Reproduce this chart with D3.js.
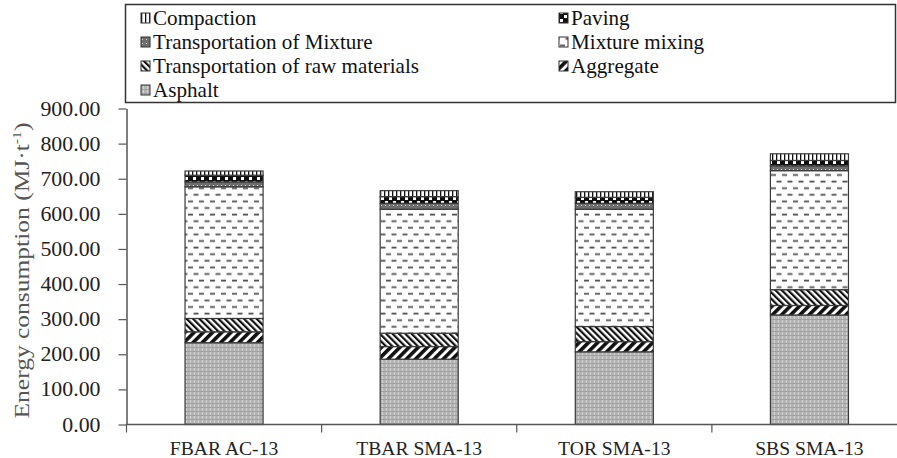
<!DOCTYPE html>
<html>
<head>
<meta charset="utf-8">
<script src="https://cdn.jsdelivr.net/npm/d3@7"></script>
<style>
  body { margin: 0; background: #fff; }
  svg { display: block; }
  text { font-family: "Liberation Serif", "Tinos", "Times New Roman", "DejaVu Serif", "Noto Serif", serif; }
</style>
</head>
<body>
<div id="main"></div>
<script>
// chart values
const categories = ["FBAR AC-13", "TBAR SMA-13", "TOR SMA-13", "SBS SMA-13"];
const asphalt      = [233, 186, 207, 312];
const aggregate    = [31, 36, 29, 27];
const rawTransport = [38, 38, 43, 45];
const mixing       = [375, 353, 334, 339];
const mixTransport = [14, 17, 17, 14];
const paving       = [19, 19, 17, 15];
const compaction   = [12, 17, 16, 19];
const yTicks = [0, 100, 200, 300, 400, 500, 600, 700, 800, 900];

// stacking order, bottom to top
const seriesNames = ["Asphalt", "Aggregate", "Transportation of raw materials",
    "Mixture mixing", "Transportation of Mixture", "Paving", "Compaction"];
const seriesValues = [asphalt, aggregate, rawTransport, mixing, mixTransport, paving, compaction];
// legend order as in the reference (two columns, row by row)
const legendOrder = ["Compaction", "Paving", "Transportation of Mixture", "Mixture mixing",
    "Transportation of raw materials", "Aggregate", "Asphalt"];

const ctx = {
    w: 897,
    h: 458,
    left: 126.5,
    right: 907,
    top: 108.5,
    bottom: 424.5,
};

const patternId = {
    "Compaction": "pCompaction",
    "Paving": "pPaving",
    "Transportation of Mixture": "pMixTrans",
    "Mixture mixing": "pMixing",
    "Transportation of raw materials": "pRawTrans",
    "Aggregate": "pAggregate",
    "Asphalt": "pAsphalt",
};

function makePatterns(defs){
    // compaction: white with thin vertical lines
    let p = defs.append("pattern").attr("id", "pCompaction").attr("patternUnits", "userSpaceOnUse")
        .attr("width", 4).attr("height", 4);
    p.append("rect").attr("width", 4).attr("height", 4).attr("fill", "#fff");
    p.append("rect").attr("x", 0).attr("width", 1.3).attr("height", 4).attr("fill", "#111");
    // paving: black with white blocks
    p = defs.append("pattern").attr("id", "pPaving").attr("patternUnits", "userSpaceOnUse")
        .attr("width", 8).attr("height", 8);
    p.append("rect").attr("width", 8).attr("height", 8).attr("fill", "#111");
    p.append("rect").attr("x", 1).attr("y", 1).attr("width", 3).attr("height", 3).attr("fill", "#fff");
    p.append("rect").attr("x", 5).attr("y", 5).attr("width", 3).attr("height", 3).attr("fill", "#fff");
    // transportation of mixture: dark gray with light dots
    p = defs.append("pattern").attr("id", "pMixTrans").attr("patternUnits", "userSpaceOnUse")
        .attr("width", 4).attr("height", 4);
    p.append("rect").attr("width", 4).attr("height", 4).attr("fill", "#6e6e6e");
    p.append("rect").attr("x", 1).attr("y", 1).attr("width", 1).attr("height", 1).attr("fill", "#d8d8d8");
    // mixture mixing: staggered short dashes
    p = defs.append("pattern").attr("id", "pMixing").attr("patternUnits", "userSpaceOnUse")
        .attr("width", 11).attr("height", 13.2);
    p.append("rect").attr("width", 11).attr("height", 13.2).attr("fill", "#fff");
    p.append("rect").attr("x", 1).attr("y", 2.5).attr("width", 5).attr("height", 1.8).attr("fill", "#555");
    p.append("rect").attr("x", 6.5).attr("y", 9.1).attr("width", 5).attr("height", 1.8).attr("fill", "#555");
    p.append("rect").attr("x", -4.5).attr("y", 9.1).attr("width", 5).attr("height", 1.8).attr("fill", "#555");
    // transportation of raw materials: dense falling diagonals
    p = defs.append("pattern").attr("id", "pRawTrans").attr("patternUnits", "userSpaceOnUse")
        .attr("width", 4.5).attr("height", 4.5).attr("patternTransform", "rotate(-45)");
    p.append("rect").attr("width", 4.5).attr("height", 4.5).attr("fill", "#fff");
    p.append("rect").attr("width", 2.2).attr("height", 4.5).attr("fill", "#111");
    // aggregate: wide rising diagonals
    p = defs.append("pattern").attr("id", "pAggregate").attr("patternUnits", "userSpaceOnUse")
        .attr("width", 6.5).attr("height", 6.5).attr("patternTransform", "rotate(45)");
    p.append("rect").attr("width", 6.5).attr("height", 6.5).attr("fill", "#fff");
    p.append("rect").attr("width", 3.6).attr("height", 6.5).attr("fill", "#111");
    // asphalt: light gray with fine grid
    p = defs.append("pattern").attr("id", "pAsphalt").attr("patternUnits", "userSpaceOnUse")
        .attr("width", 4).attr("height", 4);
    p.append("rect").attr("width", 4).attr("height", 4).attr("fill", "#b4b4b4");
    p.append("rect").attr("x", 2).attr("width", 1).attr("height", 4).attr("fill", "#d2d2d2");
    p.append("rect").attr("y", 3).attr("width", 4).attr("height", 1).attr("fill", "#a0a0a0");
}

// squeeze text to Times-like widths whatever serif face gets picked
function fitText(sel, k){
    sel.each(function(){
        let L = this.getComputedTextLength();
        d3.select(this).attr("textLength", L * k).attr("lengthAdjust", "spacingAndGlyphs");
    });
}

function createViz(){
    let svgEl = d3.select("#main").append("svg")
        .attr("width", ctx.w).attr("height", ctx.h);
    makePatterns(svgEl.append("defs"));
    let rootG = svgEl.append("g");

    // width ratio against the reference legend text
    let probe = rootG.append("text").attr("font-size", 21).text("Transportation of raw materials");
    ctx.kLeg = Math.min(1.05, 266 / probe.node().getComputedTextLength());
    probe.attr("font-size", 19.5);
    ctx.k = Math.min(1.05, 247 / probe.node().getComputedTextLength());
    probe.remove();

    ctx.xScale = d3.scaleBand().domain(categories).range([ctx.left, ctx.right]);
    ctx.yScale = d3.scaleLinear().domain([0, 900]).range([ctx.bottom, ctx.top]);

    // table for the stack layout
    let table = categories.map((c, i) => {
        let row = {category: c};
        seriesNames.forEach((s, j) => { row[s] = seriesValues[j][i]; });
        return row;
    });
    let stacked = d3.stack().keys(seriesNames)(table);

    // bars
    const bw = ctx.xScale.bandwidth();
    rootG.append("g").selectAll("g")
        .data(stacked)
        .join("g")
        .attr("fill", (d) => `url(#${patternId[d.key]})`)
        .selectAll("rect")
        .data((d) => d)
        .join("rect")
        .attr("x", (d) => ctx.xScale(d.data.category) + bw * 0.3)
        .attr("width", bw * 0.4)
        .attr("y", (d) => ctx.yScale(d[1]))
        .attr("height", (d) => ctx.yScale(d[0]) - ctx.yScale(d[1]))
        .attr("stroke", "#3a3a3a")
        .attr("stroke-width", 1.2);

    // y axis
    let yAxis = rootG.append("g")
        .attr("transform", `translate(${ctx.left},0)`)
        .call(d3.axisLeft(ctx.yScale).tickValues(yTicks).tickFormat(d3.format(".2f"))
              .tickSize(8).tickSizeOuter(0).tickPadding(18));
    yAxis.attr("font-family", null);
    yAxis.select(".domain").attr("stroke", "#555").attr("stroke-width", 1.5);
    yAxis.selectAll(".tick line").attr("stroke", "#555").attr("stroke-width", 1.2);
    yAxis.selectAll("text").attr("font-size", 20.5).attr("fill", "#222");
    fitText(yAxis.selectAll("text"), ctx.k * 1.06);

    // x axis: line at zero, ticks between categories
    let xg = rootG.append("g");
    xg.append("line")
        .attr("x1", ctx.left).attr("x2", ctx.right)
        .attr("y1", ctx.yScale(0)).attr("y2", ctx.yScale(0))
        .attr("stroke", "#555").attr("stroke-width", 1.5);
    xg.selectAll("line.sep")
        .data(categories)
        .join("line")
        .attr("class", "sep")
        .attr("x1", (d) => ctx.xScale(d)).attr("x2", (d) => ctx.xScale(d))
        .attr("y1", ctx.yScale(0)).attr("y2", ctx.yScale(0) + 8)
        .attr("stroke", "#555").attr("stroke-width", 1.2);
    let xl = xg.selectAll("text")
        .data(categories)
        .join("text")
        .attr("x", (d) => ctx.xScale(d) + bw / 2)
        .attr("y", 455)
        .attr("text-anchor", "middle")
        .attr("font-size", 19.5)
        .attr("fill", "#222")
        .text((d) => d);
    fitText(xl, ctx.k);

    // y axis title
    let title = rootG.append("text")
        .attr("transform", `translate(29,${(ctx.top + ctx.bottom) / 2 + 4}) rotate(-90)`)
        .attr("text-anchor", "middle")
        .attr("font-size", 21)
        .attr("fill", "#555")
        .attr("textLength", 296)
        .attr("lengthAdjust", "spacingAndGlyphs");
    title.append("tspan").text("Energy consumption (MJ·t");
    title.append("tspan").attr("font-size", 13).attr("dy", -8).text("-1");
    title.append("tspan").attr("dy", 8).text(")");

    // legend box
    let lg = rootG.append("g");
    lg.append("rect")
        .attr("x", 125.5).attr("y", 4.5)
        .attr("width", 770).attr("height", 98)
        .attr("fill", "#fff").attr("stroke", "#333").attr("stroke-width", 1.5);
    let colX = d3.scaleOrdinal().domain([0, 1]).range([141, 559]);
    let rowY = d3.scaleLinear().domain([0, 3]).range([18, 90]);
    let items = lg.selectAll("g.item")
        .data(legendOrder)
        .join("g")
        .attr("class", "item")
        .attr("transform", (d, i) => `translate(${colX(i % 2)},${rowY(Math.floor(i / 2))})`);
    items.append("rect")
        .attr("x", 0).attr("y", -5).attr("width", 9).attr("height", 10)
        .attr("fill", (d) => `url(#${patternId[d]})`)
        .attr("stroke", "#333").attr("stroke-width", 1);
    let lt = items.append("text")
        .attr("x", 12).attr("y", 7)
        .attr("font-size", 21)
        .attr("fill", "#111")
        .text((d) => d);
    fitText(lt, ctx.kLeg);
}

createViz();
</script>
</body>
</html>
